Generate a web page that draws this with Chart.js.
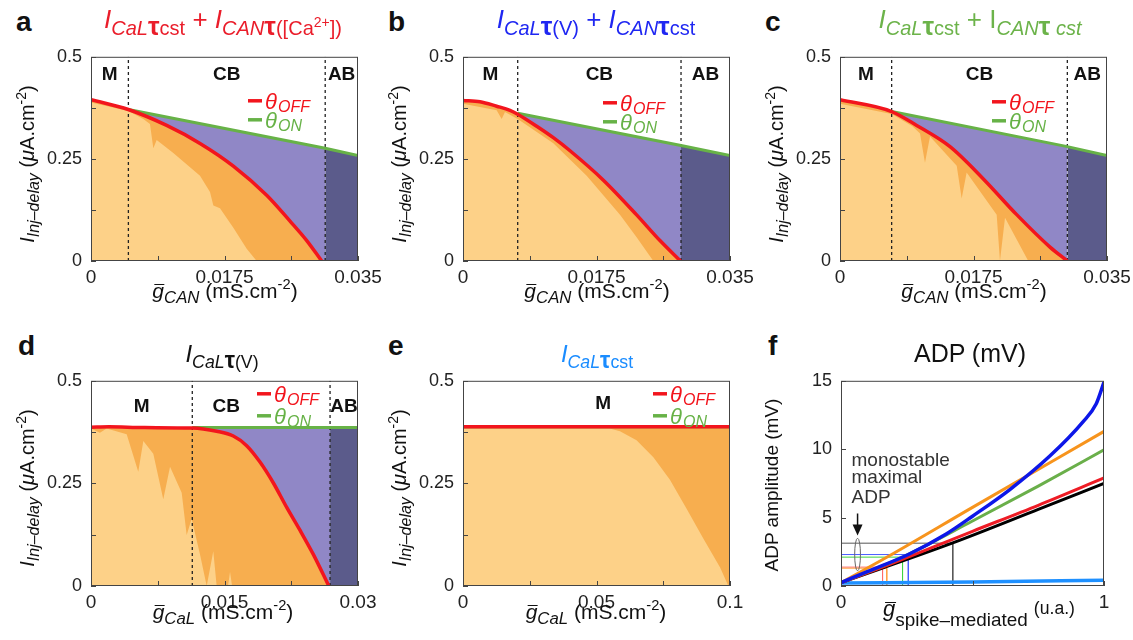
<!DOCTYPE html>
<html><head><meta charset="utf-8">
<script src="https://cdn.jsdelivr.net/npm/chart.js@4/dist/chart.umd.min.js"></script>
<style>
body{margin:0;background:#fff;}
#wrap{position:relative;width:1133px;height:640px;overflow:hidden;font-family:"Liberation Sans",Arial,Helvetica,sans-serif;color:#111;}
canvas{position:absolute;}
.t{position:absolute;white-space:nowrap;line-height:1;}
.c{transform:translateX(-50%);}
.rot{transform:translate(-50%,-50%) rotate(-90deg);}
.sb{font-size:0.77em;position:relative;top:0.36em;}
.bot .sb{font-size:0.74em;}
.sb2{font-size:0.8em;position:relative;top:0.3em;}
.sp{font-size:0.7em;position:relative;top:-0.6em;}
.tau{font-size:1.3em;font-weight:bold;}
.gbar{position:relative;font-style:italic;}
.gbar::before{content:'';position:absolute;left:0.08em;right:-0.02em;top:0.24em;border-top:1.5px solid currentColor;}
.let{font-weight:bold;font-size:28px;}
</style></head>
<body><div id="wrap"></div>
<script>
// ---------- DATA ----------
// shared y ticks (panels a-e)
const yTickVals = [0, 0.125, 0.25, 0.375, 0.5];
const yTickLabels = ['0', '', '0.25', '', '0.5'];
const canTickVals = [0, 0.00875, 0.0175, 0.02625, 0.035];
const canTickLabels = ['0', '', '0.0175', '', '0.035'];
const dTickVals = [0, 0.0075, 0.015, 0.0225, 0.03];
const dTickLabels = ['0', '', '0.015', '', '0.03'];
const eTickVals = [0, 0.025, 0.05, 0.075, 0.1];
const eTickLabels = ['0', '', '0.05', '', '0.1'];
const fTickValsX = [0, 0.5, 1];
const fTickLabelsX = ['0', '', '1'];
const fTickValsY = [0, 5, 10, 15];
const fTickLabelsY = ['0', '5', '10', '15'];

// panel a
const aBounds = [0.0049, 0.0307];
const aOffX = [0, 0.00489, 0.00992, 0.01429, 0.01866, 0.02303, 0.02609, 0.02828, 0.03024];
const aOffY = [0.395, 0.371, 0.332, 0.288, 0.2325, 0.161, 0.0976, 0.050, 0];
const aOnX = [0.0049, 0.0307, 0.035];
const aOnY = [0.371, 0.276, 0.258];
const aLightX = [0, 0.00489, 0.00686, 0.00773, 0.00817, 0.00861, 0.01079, 0.01429, 0.0156, 0.01604, 0.01691, 0.01866, 0.02041, 0.02172];
const aLightY = [0.388, 0.3675, 0.3476, 0.3357, 0.2762, 0.296, 0.2643, 0.2087, 0.169, 0.1357, 0.1294, 0.0817, 0.0302, 0];

// panel b
const bBounds = [0.00717, 0.02858];
const bOffX = [0, 0.00223, 0.00441, 0.00616, 0.00717, 0.00966, 0.01184, 0.01403, 0.0184, 0.02276, 0.02582, 0.0285];
const bOffY = [0.393, 0.390, 0.379, 0.369, 0.3595, 0.330, 0.302, 0.270, 0.198, 0.113, 0.050, 0];
const bOnX = [0.00717, 0.02858, 0.035];
const bOnY = [0.362, 0.283, 0.258];
const bLightX = [0, 0.00441, 0.00507, 0.0055, 0.00717, 0.01184, 0.01621, 0.02058, 0.02276, 0.02495];
const bLightY = [0.385, 0.369, 0.3476, 0.365, 0.3476, 0.2881, 0.2087, 0.1135, 0.0579, 0];

// panel c
const cBounds = [0.00677, 0.0298];
const cOffX = [0, 0.00677, 0.01005, 0.01442, 0.01879, 0.02316, 0.02753, 0.0298];
const cOffY = [0.395, 0.366, 0.332, 0.280, 0.201, 0.1135, 0.034, 0];
const cOnX = [0.00677, 0.0298, 0.035];
const cOnY = [0.366, 0.280, 0.258];
const cLightX = [0, 0.00677, 0.0095, 0.01049, 0.01114, 0.0118, 0.0153, 0.01595, 0.0166, 0.02054, 0.02097, 0.02163, 0.02468];
const cLightY = [0.385, 0.360, 0.330, 0.312, 0.2405, 0.3048, 0.2333, 0.1532, 0.2167, 0.1135, 0, 0.1056, 0];

// panel d
const dBounds = [0.01138, 0.02686];
const dOffX = [0, 0.002, 0.006, 0.01138, 0.01412, 0.01599, 0.01749, 0.01899, 0.02049, 0.02199, 0.02348, 0.02498, 0.02672];
const dOffY = [0.387, 0.388, 0.386, 0.385, 0.377, 0.3655, 0.342, 0.302, 0.251, 0.1915, 0.136, 0.077, 0];
const dOnX = [0.01138, 0.03];
const dOnY = [0.386, 0.386];
const dLightX = [0, 0.001, 0.00176, 0.00401, 0.00531, 0.00588, 0.007, 0.00812, 0.00888, 0.01019, 0.01075, 0.01131, 0.01225, 0.013, 0.01374, 0.01412, 0.0154, 0.01562, 0.01585];
const dLightY = [0.384, 0.3735, 0.384, 0.3695, 0.2786, 0.3536, 0.322, 0.2112, 0.2905, 0.2271, 0.1243, 0.1637, 0.0769, 0, 0.0847, 0, 0, 0.035, 0];

// panel e
const eBounds = [];
const eOffX = [0, 0.1];
const eOffY = [0.388, 0.388];
const eOnX = [0, 0.1];
const eOnY = [0.388, 0.388];
const eLightX = [0, 0.055, 0.0588, 0.065, 0.0713, 0.0775, 0.0838, 0.09, 0.0963, 0.0994];
const eLightY = [0.384, 0.384, 0.377, 0.355, 0.314, 0.2586, 0.1875, 0.116, 0.045, 0];

// panel f
const fBlueX = [0, 0.1, 0.256, 0.4, 0.5, 0.642, 0.794, 0.92, 0.97, 1];
const fBlueY = [0.25, 1.05, 2.3, 3.8, 5.1, 7.05, 9.5, 12.0, 13.3, 14.9];
const fOrangeX = [0, 0.174, 0.5, 1];
const fOrangeY = [0.25, 2.1, 5.75, 11.3];
const fGreenX = [0, 0.234, 0.5, 0.75, 1];
const fGreenY = [0.25, 2.11, 4.75, 7.3, 9.95];
const fRedX = [0, 0.158, 0.5, 0.75, 1];
const fRedY = [0.25, 1.38, 4.0, 5.9, 7.9];
const fBlackX = [0, 0.425, 0.75, 1];
const fBlackY = [0.25, 3.15, 5.6, 7.5];
const fCyanX = [0, 0.5, 1];
const fCyanY = [0.22, 0.3, 0.42];
const fBoxX = [0.425, 0.256, 0.234, 0.174, 0.158];   // monostable maximal g
const fBoxY = [3.13, 2.3, 2.11, 1.3, 1.38];          // monostable maximal ADP

// ---------- STYLE / LAYOUT ----------
const FONT = '"Liberation Sans", Arial, Helvetica, sans-serif';
const COL = {light:'#fdd188', dark:'#f7ae4f', purple:'#9087c6', navy:'#5b5b8b', red:'#f2151d', green:'#67b247'};
const wrap = document.getElementById('wrap');
const zip = (xs, ys) => xs.map((x, i) => ({x: x, y: ys[i]}));

const decor = {
  id: 'decor',
  afterDatasetsDraw(chart, args, o) {
    const ctx = chart.ctx, ca = chart.chartArea, x = chart.scales.x, y = chart.scales.y;
    ctx.save();
    ctx.strokeStyle = '#444'; ctx.lineWidth = 1;
    ctx.strokeRect(ca.left + 0.5, ca.top + 0.5, ca.right - ca.left - 1, ca.bottom - ca.top - 1);
    ctx.beginPath();
    x.ticks.forEach(t => { const px = Math.round(x.getPixelForValue(t.value)) + 0.5; ctx.moveTo(px, ca.bottom); ctx.lineTo(px, ca.bottom - 5); });
    y.ticks.forEach(t => { const py = Math.round(y.getPixelForValue(t.value)) + 0.5; ctx.moveTo(ca.left, py); ctx.lineTo(ca.left + 5, py); });
    ctx.stroke();
    if (o.regions) {
      ctx.font = 'bold 19px ' + FONT; ctx.fillStyle = '#111'; ctx.textAlign = 'center'; ctx.textBaseline = 'middle';
      o.regions.forEach(r => ctx.fillText(r.t, x.getPixelForValue(r.x), y.getPixelForValue(r.y)));
    }
    if (o.legend) {
      const L = o.legend;
      [['OFF', COL.red], ['ON', COL.green]].forEach((e, i) => {
        const x0 = ca.right - L.dx, y0 = ca.top + L.dy + i * L.gap;
        ctx.strokeStyle = e[1]; ctx.lineWidth = 3.5; ctx.beginPath(); ctx.moveTo(x0, y0); ctx.lineTo(x0 + 14, y0); ctx.stroke();
        ctx.fillStyle = e[1]; ctx.textAlign = 'left'; ctx.textBaseline = 'alphabetic';
        ctx.font = 'italic 22px ' + FONT; ctx.fillText('θ', x0 + 17, y0 + 8);
        const w = ctx.measureText('θ').width;
        ctx.font = 'italic 16px ' + FONT; ctx.fillText(e[0], x0 + 17 + w + 1, y0 + 11);
      });
    }
    if (o.extra) o.extra(chart);
    ctx.restore();
  }
};

function makeChart(rect, datasets, sc, decorOpts) {
  const padL = 70, padT = 14, padR = 30, padB = 34;
  const c = document.createElement('canvas');
  c.width = rect.w + padL + padR; c.height = rect.h + padT + padB;
  c.style.left = (rect.l - padL) + 'px'; c.style.top = (rect.t - padT) + 'px';
  wrap.appendChild(c);
  new Chart(c, {
    type: 'line',
    data: {datasets: datasets},
    options: {
      responsive: false, animation: false, devicePixelRatio: 1,
      layout: {padding: {left: 0, top: padT, right: padR, bottom: 0}},
      elements: {point: {radius: 0}, line: {tension: 0}},
      plugins: {legend: {display: false}, tooltip: {enabled: false}, filler: {drawTime: 'beforeDatasetsDraw'}, decor: decorOpts},
      scales: {
        x: {type: 'linear', min: sc.xmin, max: sc.xmax, grid: {display: false, drawTicks: false}, border: {display: false},
            afterBuildTicks: s => { s.ticks = sc.xt.map(v => ({value: v})); },
            afterFit: s => { s.height = padB; },
            ticks: {padding: 5, maxRotation: 0, autoSkip: false, font: {family: FONT, size: 19}, color: '#222', callback: (v, i) => sc.xl[i]}},
        y: {type: 'linear', min: sc.ymin, max: sc.ymax, grid: {display: false, drawTicks: false}, border: {display: false},
            afterBuildTicks: s => { s.ticks = sc.yt.map(v => ({value: v})); },
            afterFit: s => { s.width = padL; },
            ticks: {padding: 9, autoSkip: false, font: {family: FONT, size: 18}, color: '#222', callback: (v, i) => sc.yl[i]}}
      }
    },
    plugins: [decor]
  });
}

// split a polyline at x = b (with interpolated joint point)
function splitAt(pts, b) {
  const left = [], right = [];
  for (let i = 0; i < pts.length; i++) {
    const p = pts[i];
    if (p.x <= b) left.push(p);
    if (p.x >= b) right.push(p);
    const q = pts[i + 1];
    if (q && p.x < b && q.x > b) {
      const yb = p.y + (q.y - p.y) * (b - p.x) / (q.x - p.x);
      left.push({x: b, y: yb}); right.push({x: b, y: yb});
    }
  }
  return [left, right];
}

function phaseSets(p) {
  const on = zip(p.onX, p.onY);
  const ds = [
    {data: zip(p.lightX, p.lightY), borderWidth: 0, borderColor: 'transparent', backgroundColor: COL.light, fill: 'origin'},
    {data: zip(p.offX, p.offY), borderColor: COL.red, borderWidth: 3.5, backgroundColor: COL.dark, fill: 'origin', cubicInterpolationMode: 'monotone'},
    {data: on, borderColor: COL.green, borderWidth: 3, fill: false}
  ];
  p.bounds.forEach(b => ds.push({data: [{x: b, y: 0}, {x: b, y: 0.5}], borderColor: '#222', borderWidth: 1.3, borderDash: [3, 3], fill: false}));
  if (p.bounds.length) {
    const parts = splitAt(on, p.bounds[1]);
    ds.push({data: parts[0], borderWidth: 0, borderColor: 'transparent', backgroundColor: COL.purple, fill: 'origin'});
    ds.push({data: parts[1], borderWidth: 0, borderColor: 'transparent', backgroundColor: COL.navy, fill: 'origin'});
  }
  return ds;
}
function regionsFor(b, xmax) {
  return [{t: 'M', x: b[0] / 2, y: 0.457}, {t: 'CB', x: (b[0] + b[1]) / 2, y: 0.457}, {t: 'AB', x: (b[1] + xmax) / 2, y: 0.457}];
}

const R = {
  a: {l: 91, t: 51, w: 267, h: 210}, b: {l: 463, t: 51, w: 267, h: 210}, c: {l: 840, t: 51, w: 267, h: 210},
  d: {l: 91, t: 375, w: 267, h: 211}, e: {l: 463, t: 375, w: 267, h: 211}, f: {l: 841, t: 375, w: 263, h: 211}
};
const canScale = {xmin: 0, xmax: 0.035, ymin: 0, ymax: 0.5, xt: canTickVals, xl: canTickLabels, yt: yTickVals, yl: yTickLabels};

makeChart(R.a, phaseSets({bounds: aBounds, offX: aOffX, offY: aOffY, onX: aOnX, onY: aOnY, lightX: aLightX, lightY: aLightY}), canScale,
  {regions: regionsFor(aBounds, 0.035), legend: {dx: 110, dy: 44, gap: 19}});
makeChart(R.b, phaseSets({bounds: bBounds, offX: bOffX, offY: bOffY, onX: bOnX, onY: bOnY, lightX: bLightX, lightY: bLightY}), canScale,
  {regions: regionsFor(bBounds, 0.035), legend: {dx: 127, dy: 46, gap: 19}});
makeChart(R.c, phaseSets({bounds: cBounds, offX: cOffX, offY: cOffY, onX: cOnX, onY: cOnY, lightX: cLightX, lightY: cLightY}), canScale,
  {regions: regionsFor(cBounds, 0.035), legend: {dx: 115, dy: 45, gap: 19}});
const dReg = regionsFor(dBounds, 0.03).map(r => ({t: r.t, x: r.x, y: 0.437}));
dReg[1].x = 0.0152;
makeChart(R.d, phaseSets({bounds: dBounds, offX: dOffX, offY: dOffY, onX: dOnX, onY: dOnY, lightX: dLightX, lightY: dLightY}),
  {xmin: 0, xmax: 0.03, ymin: 0, ymax: 0.5, xt: dTickVals, xl: dTickLabels, yt: yTickVals, yl: yTickLabels},
  {regions: dReg, legend: {dx: 101, dy: 13, gap: 22}});
makeChart(R.e, phaseSets({bounds: eBounds, offX: eOffX, offY: eOffY, onX: eOnX, onY: eOnY, lightX: eLightX, lightY: eLightY}),
  {xmin: 0, xmax: 0.1, ymin: 0, ymax: 0.5, xt: eTickVals, xl: eTickLabels, yt: yTickVals, yl: yTickLabels},
  {regions: [{t: 'M', x: 0.0525, y: 0.445}], legend: {dx: 77, dy: 13, gap: 22}});

// panel f
const fNote = {x: 0.04, lines: ['monostable', 'maximal', 'ADP'], ys: [8.8, 7.5, 6.1], arrowX: 0.063, arrowFrom: 5.3, arrowTo: 3.7, ell: [0.063, 2.3, 0.011, 1.19]};
const boxColors = ['#555', '#4a5cff', '#3fd43f', '#ffa040', '#ff6a6a'];
const fSets = [
  {data: zip(fBlueX, fBlueY), borderColor: '#0d17e8', borderWidth: 3.5, cubicInterpolationMode: 'monotone', fill: false},
  {data: zip(fOrangeX, fOrangeY), borderColor: '#f7941d', borderWidth: 3, cubicInterpolationMode: 'monotone', fill: false},
  {data: zip(fGreenX, fGreenY), borderColor: '#6aaf4a', borderWidth: 3, cubicInterpolationMode: 'monotone', fill: false},
  {data: zip(fRedX, fRedY), borderColor: '#ee1c25', borderWidth: 3, cubicInterpolationMode: 'monotone', fill: false},
  {data: zip(fBlackX, fBlackY), borderColor: '#000', borderWidth: 3, cubicInterpolationMode: 'monotone', fill: false},
  {data: zip(fCyanX, fCyanY), borderColor: '#1e90ff', borderWidth: 3.5, cubicInterpolationMode: 'monotone', fill: false}
];
fBoxX.forEach((bx, i) => fSets.push({data: [{x: 0, y: fBoxY[i]}, {x: bx, y: fBoxY[i]}, {x: bx, y: 0}], borderColor: boxColors[i], borderWidth: 1, fill: false}));
function fExtra(chart) {
  const ctx = chart.ctx, x = chart.scales.x, y = chart.scales.y;
  const e = fNote.ell;
  ctx.strokeStyle = '#666'; ctx.lineWidth = 1;
  ctx.beginPath();
  ctx.ellipse(x.getPixelForValue(e[0]), y.getPixelForValue(e[1]), x.getPixelForValue(e[2]) - x.getPixelForValue(0), y.getPixelForValue(0) - y.getPixelForValue(e[3]), 0, 0, 2 * Math.PI);
  ctx.stroke();
  const ax = x.getPixelForValue(fNote.arrowX), ay0 = y.getPixelForValue(fNote.arrowFrom), ay1 = y.getPixelForValue(fNote.arrowTo);
  ctx.strokeStyle = '#111'; ctx.fillStyle = '#111'; ctx.lineWidth = 1.5;
  ctx.beginPath(); ctx.moveTo(ax, ay0); ctx.lineTo(ax, ay1 - 8); ctx.stroke();
  ctx.beginPath(); ctx.moveTo(ax - 5, ay1 - 11); ctx.lineTo(ax + 5, ay1 - 11); ctx.lineTo(ax, ay1); ctx.closePath(); ctx.fill();
  ctx.fillStyle = '#333'; ctx.font = '19px ' + FONT; ctx.textAlign = 'left'; ctx.textBaseline = 'alphabetic';
  fNote.lines.forEach((s, i) => ctx.fillText(s, x.getPixelForValue(fNote.x), y.getPixelForValue(fNote.ys[i])));
}
makeChart(R.f, fSets, {xmin: 0, xmax: 1, ymin: 0, ymax: 15, xt: fTickValsX, xl: fTickLabelsX, yt: fTickValsY, yl: fTickLabelsY},
  {extra: fExtra});

// ---------- TEXT ----------
function txt(html, x, y, cls, style) {
  const d = document.createElement('div');
  d.className = 't ' + (cls || '');
  d.innerHTML = html;
  d.style.left = x + 'px'; d.style.top = y + 'px';
  Object.assign(d.style, style || {});
  wrap.appendChild(d);
}
// panel letters
[['a', 16, 8], ['b', 388, 8], ['c', 765, 8], ['d', 18, 332], ['e', 388, 332], ['f', 768, 332]].forEach(p => txt(p[0], p[1], p[2], 'let'));
// titles
const T = 26, T2 = 24, topRowTitle = 28 - 0.847 * T, botRowTitle = 362 - 0.847 * T2;
txt('<i>I</i><span class="sb"><i>CaL</i><span class="tau">τ</span>cst</span> + <i>I</i><span class="sb"><i>CAN</i><span class="tau">τ</span>([Ca<span class="sp">2+</span>])</span>', 223, topRowTitle, 'c', {fontSize: T + 'px', color: '#ea1d2a'});
txt('<i>I</i><span class="sb"><i>CaL</i><span class="tau">τ</span>(V)</span> + <i>I</i><span class="sb"><i>CAN</i><span class="tau">τ</span>cst</span>', 596, topRowTitle, 'c', {fontSize: T + 'px', color: '#1f27f2'});
txt('<i>I</i><span class="sb"><i>CaL</i><span class="tau">τ</span>cst</span> + I<span class="sb"><i>CAN</i><span class="tau">τ</span> <i>cst</i></span>', 980, topRowTitle, 'c', {fontSize: T + 'px', color: '#6cb34a'});
txt('<i>I</i><span class="sb"><i>CaL</i><span class="tau">τ</span>(V)</span>', 222, botRowTitle, 'c bot', {fontSize: T2 + 'px', color: '#111'});
txt('<i>I</i><span class="sb"><i>CaL</i><span class="tau">τ</span>cst</span>', 597, botRowTitle, 'c bot', {fontSize: T2 + 'px', color: '#1a8cff'});
txt('ADP (mV)', 970, 362 - 0.847 * 25, 'c', {fontSize: '25px', color: '#111'});
// y titles
const yT = '<i>I</i><span class="sb2"><i>Inj–delay</i></span> (<i>μ</i>A.cm<span class="sp">-2</span>)';
[[27, 164], [399, 164], [776, 164], [27, 488], [399, 488]].forEach(p => txt(yT, p[0], p[1], 'rot', {fontSize: '20px'}));
txt('ADP amplitude (mV)', 771, 485, 'rot', {fontSize: '19px'});
// x titles
const xCAN = '<span class="gbar">g</span><span class="sb2"><i>CAN</i></span> (mS.cm<span class="sp">-2</span>)';
const xCaL = '<span class="gbar">g</span><span class="sb2"><i>CaL</i></span> (mS.cm<span class="sp">-2</span>)';
[225, 597, 974].forEach(cx => txt(xCAN, cx, 298 - 0.847 * 21, 'c', {fontSize: '21px'}));
[223, 596].forEach(cx => txt(xCaL, cx, 619 - 0.847 * 21, 'c', {fontSize: '21px'}));
txt('<span class="gbar">g</span><span style="font-size:0.86em;position:relative;top:0.5em">spike–mediated</span> <span style="font-size:0.8em;position:relative;top:-0.15em">(u.a.)</span>', 979, 617 - 0.847 * 22, 'c', {fontSize: '22px'});
</script>
</body></html>
